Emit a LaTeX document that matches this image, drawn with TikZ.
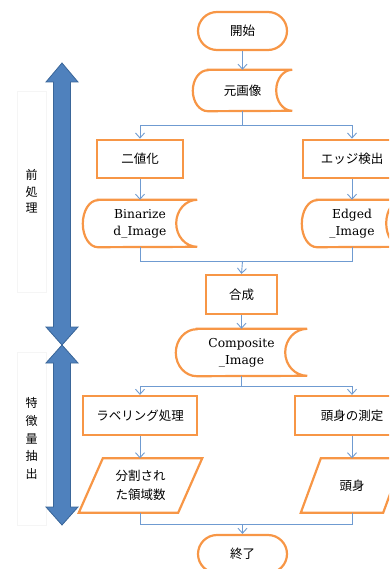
\documentclass[tikz,border=0pt]{standalone}
\usepackage{fontspec}
\newfontfamily\jp{Noto Sans CJK JP}
\newfontfamily\lat{DejaVu Serif}
\usetikzlibrary{arrows.meta,calc}
\definecolor{ofc}{HTML}{F79646}
\definecolor{lnc}{HTML}{6F9BD1}
\definecolor{barfill}{HTML}{4F81BD}
\definecolor{barline}{HTML}{3A6699}
\newcommand\stdraw[4]{\draw[shp] ($(#1.north west)+(#3,0)$) -- (#1.north east)
  arc[start angle=90,end angle=270,x radius=#4pt,y radius=#2pt]
  -- ($(#1.south west)+(#3,0)$)
  arc[start angle=270,end angle=90,x radius=#3pt,y radius=#2pt] -- cycle;}
\newcommand\pgdraw[2]{\draw[shp] ($(#1.north west)+(#2,0)$) -- (#1.north east)
  -- ($(#1.south east)-(#2,0)$) -- (#1.south west) -- cycle;}
\begin{document}
\begin{tikzpicture}[x=1pt,y=-1pt,
  shp/.style={line width=2.2pt,draw=ofc,line join=miter},
  jpf/.style={font=\jp\fontsize{12.5}{15}\selectfont},
  latf/.style={font=\lat\fontsize{12.3}{17}\selectfont},
  term/.style={shp,jpf,rectangle,rounded corners=19pt,minimum width=89pt,minimum height=38pt,inner sep=0pt},
  proc/.style={shp,jpf,rectangle,minimum height=38.5pt,inner sep=0pt},
  ghost/.style={rectangle,inner sep=0pt,align=center},
  lbl/.style={rectangle,draw=black!4,line width=0.6pt,inner sep=0pt,minimum width=29pt,align=center,font=\jp\fontsize{12}{17}\selectfont},
  ln/.style={draw=lnc,line width=0.9pt},
  conn/.style={ln,-{Straight Barb[length=5pt,width=9pt]}},
  bigarrow/.style={fill=barfill,draw=barline,line width=0.8pt,line join=miter}
]
\clip (0,0) rectangle (389,569);
\useasboundingbox (0,0) rectangle (389,569);

% side labels
\node[lbl,minimum height=201pt,font=\jp\fontsize{12}{16.5}\selectfont] (pre) at (31.5,191.5) {前\\処\\理};
\node[lbl,minimum height=173pt,font=\jp\fontsize{12}{17.7}\selectfont] (feat) at (31.5,438.5) {特\\徴\\量\\抽\\出};

% big arrows
\draw[bigarrow] (62,63) -- (78,82) -- (70.5,82) -- (70.5,327) -- (78,327) -- (62,345)
  -- (46,327) -- (53.5,327) -- (53.5,82) -- (46,82) -- cycle;
\draw[bigarrow] (62,345) -- (78,363) -- (70.5,363) -- (70.5,507) -- (78,507) -- (62,525)
  -- (46,507) -- (53.5,507) -- (53.5,363) -- (46,363) -- cycle;

% nodes
\node[term] (start) at (242.5,31) {開始};
\node[ghost,jpf,minimum width=99pt,minimum height=41pt] (src) at (242.5,90.5) {元画像};
\stdraw{src}{20.5}{15}{16}
\node[proc,minimum width=86pt] (bin) at (140,159) {二値化};
\node[proc,minimum width=98pt] (edge) at (352,159) {エッジ検出};
\node[ghost,latf,minimum width=114pt,minimum height=47pt] (binimg) at (140,223.5) {Binarize\\d\_Image};
\stdraw{binimg}{23.5}{15}{21}
\node[ghost,latf,minimum width=100pt,minimum height=47pt] (edgimg) at (352,223.5) {Edged\\\_Image};
\stdraw{edgimg}{23.5}{15}{16}
\node[proc,minimum width=71pt,minimum height=39pt] (mix) at (241.5,294.5) {合成};
\node[ghost,latf,minimum width=131pt,minimum height=47pt] (comp) at (241.5,352.5) {Composite\\\_Image};
\stdraw{comp}{23.5}{21}{22}
\node[proc,minimum width=114pt,minimum height=39pt] (lab) at (140,415.5) {ラベリング処理};
\node[proc,minimum width=114pt,minimum height=39pt] (tou) at (352,415.5) {頭身の測定};
\node[ghost,font=\jp\fontsize{12.5}{19}\selectfont,minimum width=123pt,minimum height=54pt] (div) at (140.5,485.5) {分割され\\た領域数};
\pgdraw{div}{24}
\node[ghost,jpf,minimum width=102pt,minimum height=54pt] (tsh) at (352,485.5) {頭身};
\pgdraw{tsh}{20}
\node[term] (end) at (242.5,554) {終了};

% junctions
\coordinate (j1) at (242.5,125);
\coordinate (j2) at (242.5,261);
\coordinate (j3) at (241.5,386);
\coordinate (j4) at (242.5,524);

% connectors
\draw[conn] (start.south) -- (src.north);
\draw[ln] (src.south) -- (j1);
\draw[conn] (j1) -| (bin.north);
\draw[conn] (j1) -| (edge.north);
\draw[conn] (bin.south) -- (binimg.north);
\draw[conn] (edge.south) -- (edgimg.north);
\draw[ln] (binimg.south) |- (j2);
\draw[ln] (edgimg.south) |- (j2);
\draw[conn] (j2) -- (mix.north);
\draw[conn] (mix.south) -- (comp.north);
\draw[ln] (comp.south) -- (j3);
\draw[conn] (j3) -| (lab.north);
\draw[conn] (j3) -| (tou.north);
\draw[conn] (lab.south) -- (lab.south |- div.north);
\draw[conn] (tou.south) -- (tou.south |- tsh.north);
\draw[ln] (div.south) |- (j4);
\draw[ln] (tsh.south) |- (j4);
\draw[conn] (j4) -- (end.north);
\end{tikzpicture}
\end{document}
